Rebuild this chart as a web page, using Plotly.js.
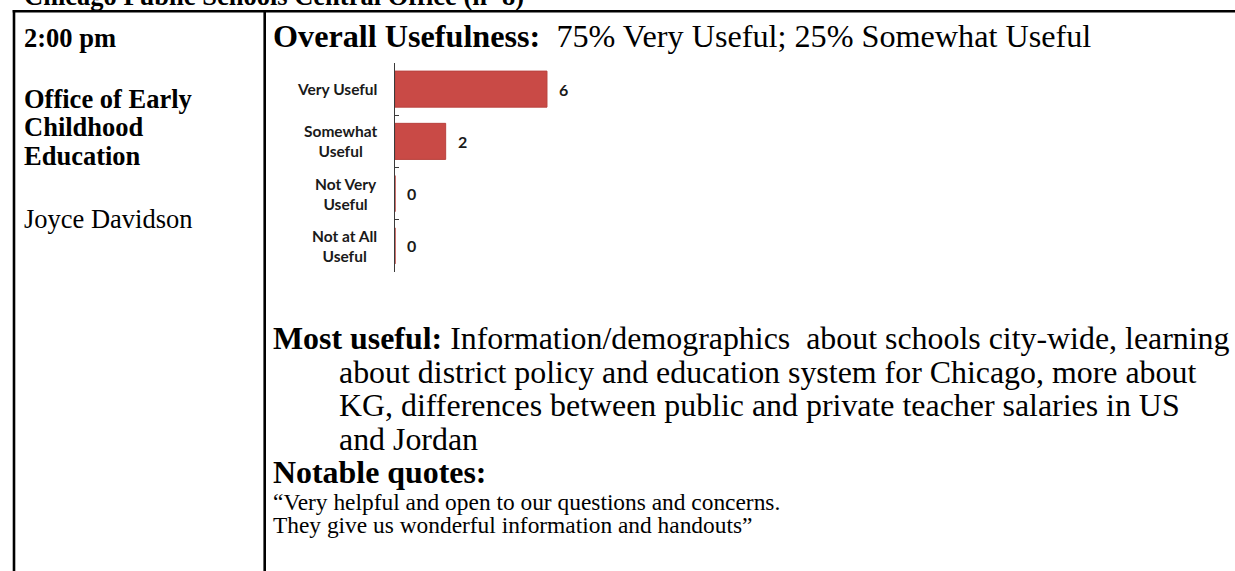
<!DOCTYPE html>
<html><head><meta charset="utf-8">
<script src="https://cdn.plot.ly/plotly-3.0.1.min.js"></script>
<style>html,body{margin:0;padding:0;background:#fff;}#chart{width:1235px;height:571px;}</style>
</head><body><div id="chart"></div>
<script>
// ---- data ----
const categories = ['Very Useful', 'Somewhat Useful', 'Not Very Useful', 'Not at All Useful'];
const tickLabels = ['Very Useful', 'Somewhat<br>Useful', 'Not Very<br>Useful', 'Not at All<br>Useful'];
const counts = [6, 2, 0, 0];

const headerTitle = 'Chicago Public Schools Central Office (n=8)';
const sessionTime = '2:00 pm';
const officeLines = ['Office of Early', 'Childhood', 'Education'];
const presenter = 'Joyce Davidson';
const mostUsefulLines = [
  'Information/demographics\u00a0 about schools city-wide, learning',
  'about district policy and education system for Chicago, more about',
  'KG, differences between public and private teacher salaries in US',
  'and Jordan'
];
const quoteLines = [
  '\u201cVery helpful and open to our questions and concerns.',
  'They give us wonderful information and handouts\u201d'
];

// ---- layout helpers ----
const W = 1235, H = 571;
const X = p => p / W;
const Y = p => 1 - p / H;

const total = counts.reduce((a, b) => a + b, 0);
const pct = i => Math.round(100 * counts[i] / total) + '%';
const summary = '<b>Overall Usefulness:</b>\u00a0 ' + pct(0) + ' Very Useful; ' + pct(1) + ' Somewhat Useful';

const serif = 'Liberation Serif, Times New Roman, serif';
const sans = 'Lato, Noto Sans, sans-serif';
const LEFT = 26.5, RIGHT = 32.2, QUOTE = 23.4;

function txt(text, x, yc, size, extra) {
  return Object.assign({
    text: text, xref: 'paper', yref: 'paper', x: X(x), y: Y(yc),
    xanchor: 'left', yanchor: 'middle', showarrow: false, borderpad: 0,
    align: 'left', font: {family: serif, size: size, color: '#000'}
  }, extra || {});
}

const annotations = [];
annotations.push(txt('<b>' + headerTitle + '</b>', 23, -4, LEFT));
annotations.push(txt('<b>' + sessionTime + '</b>', 23, 38, LEFT));
officeLines.forEach((l, i) => annotations.push(txt('<b>' + l + '</b>', 23, 99 + i * 28.5, LEFT)));
annotations.push(txt(presenter, 23, 219, LEFT));
annotations.push(txt(summary, 272, 36, RIGHT));
annotations.push(txt('<b>Most useful:</b> ' + mostUsefulLines[0], 272, 338, 31.9));
mostUsefulLines.slice(1).forEach((l, i) => annotations.push(txt(l, 338, 372 + i * 33.5, 31.9)));
annotations.push(txt('<b>Notable quotes:</b>', 272, 472, 31.9));
quoteLines.forEach((l, i) => annotations.push(txt(l, 272, 502 + i * 23, QUOTE)));

// category labels (centered lines, right edge at fixed x) and value labels
categories.forEach((c, i) => {
  annotations.push({
    text: tickLabels[i], xref: 'paper', yref: 'y', x: X(379), y: c,
    xanchor: 'right', yanchor: 'middle', align: 'center', showarrow: false,
    font: {family: sans, size: 15.5, color: '#1a1a1a', weight: 700}
  });
  annotations.push({
    text: '<b>' + counts[i] + '</b>', xref: 'x', yref: 'y', x: counts[i], y: c,
    xanchor: 'left', yanchor: 'middle', xshift: 10, showarrow: false,
    font: {family: sans, size: 16, color: '#1a1a1a'}
  });
});

// table rules
const rule = (x0, y0, x1, y1) => ({type: 'line', xref: 'paper', yref: 'paper',
  x0: X(x0), y0: Y(y0), x1: X(x1), y1: Y(y1), line: {color: '#000', width: 2.6}});
const shapes = [rule(12.7, 11.3, W, 11.3), rule(14, 10, 14, H), rule(264.7, 10, 264.7, H)];

const trace = {
  type: 'bar', orientation: 'h', y: categories, x: counts,
  marker: {color: '#C94A46', line: {color: '#B9423E', width: 1}},
  hoverinfo: 'x+y'
};

const layout = {
  width: W, height: H, margin: {l: 0, r: 0, t: 0, b: 0},
  paper_bgcolor: '#fff', plot_bgcolor: 'rgba(0,0,0,0)', showlegend: false,
  bargap: 0.31,
  xaxis: {domain: [X(395), X(395 + 25.33 * 8)], range: [0, 8], visible: false, fixedrange: true},
  yaxis: {domain: [Y(272), Y(63)], type: 'category', range: [3.5, -0.5],
    showline: true, linecolor: '#3a3a3a', linewidth: 1, showgrid: false, zeroline: false,
    ticks: 'inside', tickson: 'boundaries', ticklen: 4, tickcolor: '#3a3a3a',
    showticklabels: false, fixedrange: true},
  annotations: annotations, shapes: shapes
};

Plotly.newPlot('chart', [trace], layout, {displayModeBar: false, staticPlot: true});
</script></body></html>
